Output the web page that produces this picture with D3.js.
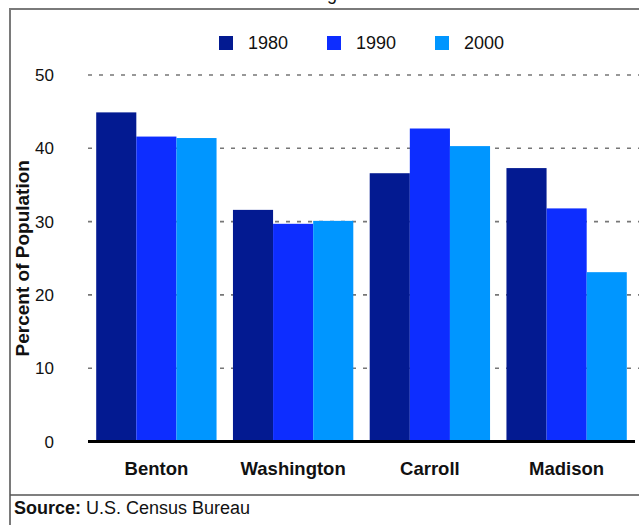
<!DOCTYPE html>
<html>
<head>
<meta charset="utf-8">
<script src="https://cdn.jsdelivr.net/npm/d3@7"></script>
<style>
  html, body { margin: 0; padding: 0; background: #fff; overflow: hidden; }
  svg { display: block; font-family: "Liberation Sans", Arial, Helvetica, sans-serif; }
</style>
</head>
<body>
<div id="chart"></div>
<script>
// Chart data
const counties = ['Benton', 'Washington', 'Carroll', 'Madison'];
const years = ['1980', '1990', '2000'];
const values1980 = [44.9, 31.6, 36.6, 37.3];
const values1990 = [41.6, 29.7, 42.7, 31.8];
const values2000 = [41.4, 30.1, 40.3, 23.1];
const yTicks = [0, 10, 20, 30, 40, 50];
const yearColors = ['#031a91', '#0d2dff', '#0096ff'];

const seriesValues = [values1980, values1990, values2000];
const rows = counties.map((c, i) => ({
  county: c,
  values: years.map((y, j) => ({ year: y, value: seriesValues[j][i] }))
}));

const width = 639, height = 525;

const svg = d3.select('#chart').append('svg')
  .attr('width', width)
  .attr('height', height);

// Outer frame (right edge runs off the picture)
svg.append('rect')
  .attr('x', 10).attr('y', 9)
  .attr('width', 700).attr('height', 560)
  .attr('fill', 'none')
  .attr('stroke', '#7a7a7a')
  .attr('stroke-width', 2);

// Title, mostly clipped above the frame (only a descender shows)
svg.append('text')
  .attr('x', 296).attr('y', 0)
  .attr('text-anchor', 'middle')
  .attr('font-size', 18)
  .attr('fill', '#111')
  .text('Residents Living Alone');

// Scales
const x0 = d3.scaleBand()
  .domain(counties)
  .range([88, 635])
  .paddingInner(0.12)
  .paddingOuter(0.06);

const x1 = d3.scaleBand()
  .domain(years)
  .range([0, x0.bandwidth()]);

const y = d3.scaleLinear()
  .domain([0, 50])
  .range([441.5, 75]);

// Dashed gridlines
svg.append('g')
  .selectAll('line')
  .data(yTicks.filter(d => d > 0))
  .join('line')
  .attr('x1', 88).attr('x2', 639)
  .attr('y1', d => y(d)).attr('y2', d => y(d))
  .attr('stroke', '#777')
  .attr('stroke-width', 1.6)
  .attr('stroke-dasharray', '4,7');

// Bars
svg.append('g')
  .selectAll('g')
  .data(rows)
  .join('g')
  .attr('transform', d => `translate(${x0(d.county)},0)`)
  .selectAll('rect')
  .data(d => d.values)
  .join('rect')
  .attr('x', d => x1(d.year))
  .attr('width', x1.bandwidth())
  .attr('y', d => y(d.value))
  .attr('height', d => y(0) - y(d.value))
  .attr('fill', (d, i) => yearColors[i]);

// Baseline
svg.append('line')
  .attr('x1', 88).attr('x2', 635)
  .attr('y1', y(0)).attr('y2', y(0))
  .attr('stroke', '#000')
  .attr('stroke-width', 3);

// Y tick labels
svg.append('g')
  .selectAll('text')
  .data(yTicks)
  .join('text')
  .attr('x', 54)
  .attr('y', d => y(d) + 6)
  .attr('text-anchor', 'end')
  .attr('font-size', 17)
  .attr('fill', '#111')
  .text(d => d);

// Y axis title
svg.append('text')
  .attr('transform', `translate(29, ${(y(0) + y(50)) / 2}) rotate(-90)`)
  .attr('text-anchor', 'middle')
  .attr('font-size', 19)
  .attr('font-weight', 'bold')
  .attr('fill', '#111')
  .text('Percent of Population');

// Category labels
svg.append('g')
  .selectAll('text')
  .data(counties)
  .join('text')
  .attr('x', d => x0(d) + x0.bandwidth() / 2)
  .attr('y', 475)
  .attr('text-anchor', 'middle')
  .attr('font-size', 18.5)
  .attr('font-weight', 'bold')
  .attr('fill', '#111')
  .text(d => d);

// Legend
const legend = svg.append('g')
  .selectAll('g')
  .data(years)
  .join('g')
  .attr('transform', (d, i) => `translate(${219 + i * 108}, 36)`);

legend.append('rect')
  .attr('width', 14).attr('height', 14)
  .attr('fill', (d, i) => yearColors[i]);

legend.append('text')
  .attr('x', 29).attr('y', 13)
  .attr('font-size', 18)
  .attr('fill', '#111')
  .text(d => d);

// Source line
svg.append('line')
  .attr('x1', 10).attr('x2', 639)
  .attr('y1', 495).attr('y2', 495)
  .attr('stroke', '#555')
  .attr('stroke-width', 1.5);

const source = svg.append('text')
  .attr('x', 14).attr('y', 514)
  .attr('font-size', 18)
  .attr('fill', '#111');
source.append('tspan').attr('font-weight', 'bold').text('Source:');
source.append('tspan').text(' U.S. Census Bureau');
</script>
</body>
</html>
